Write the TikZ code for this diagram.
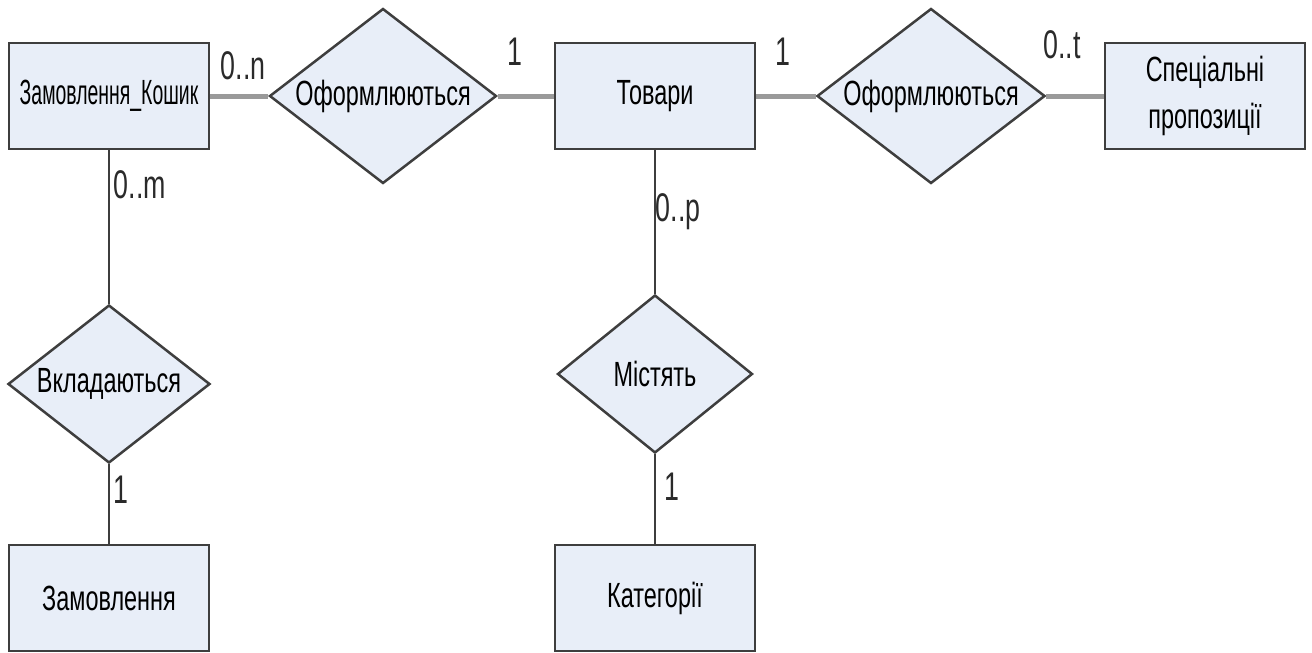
\documentclass[tikz,border=0pt]{standalone}
\usepackage{fontspec}
\setmainfont{Liberation Sans}[FakeStretch=0.67]
\newfontfamily\tightfont{Liberation Sans}[FakeStretch=0.555]
\usetikzlibrary{shapes.geometric}
\definecolor{boxfill}{HTML}{E8EEF8}
\definecolor{boxline}{HTML}{3E3E3E}
\definecolor{linkgray}{HTML}{9A9A9A}
\definecolor{cardtext}{HTML}{2A2A2A}
% diamond text is boxed to zero width so the shape keeps its given size
\newcommand{\reltext}[1]{\makebox[0pt]{#1}}
\tikzset{
  entity/.style={draw=boxline, line width=2.5pt, fill=boxfill, minimum width=200pt,
    minimum height=106pt, inner sep=0pt, font=\fontsize{35}{47}\selectfont, align=center},
  relation/.style={diamond, draw=boxline, line width=2.5pt, fill=boxfill, inner sep=0pt,
    font=\fontsize{35}{42}\selectfont},
  hlink/.style={draw=linkgray, line width=5pt},
  vlink/.style={draw=boxline, line width=2pt},
  card/.style={font=\fontsize{40}{44}\selectfont, text=cardtext, inner sep=0pt}
}
\begin{document}
\begin{tikzpicture}[x=1pt, y=-1pt]
  \useasboundingbox (0,0) rectangle (1312,653);

  % entities
  \node[entity] (zk) at (109,96) {\tightfont Замовлення\_Кошик};
  \node[entity] (tov) at (655,96) {Товари};
  \node[entity] (sp) at (1205,96) {Спеціальні\\пропозиції};
  \node[entity] (zam) at (109,598) {Замовлення};
  \node[entity] (kat) at (655,598) {Категорії};

  % relationships
  \node[relation, minimum width=227pt, minimum height=175pt] (of1) at (383,96) {\reltext{Оформлюються}};
  \node[relation, minimum width=228pt, minimum height=175pt] (of2) at (931,96) {\reltext{Оформлюються}};
  \node[relation, minimum width=202pt, minimum height=158pt] (vk) at (109,384) {\reltext{Вкладаються}};
  \node[relation, minimum width=195pt, minimum height=158pt] (mis) at (655,374) {\reltext{Містять}};

  % connectors
  \draw[hlink] (zk.east) -- (of1.west);
  \draw[hlink] (of1.east) -- (tov.west);
  \draw[hlink] (tov.east) -- (of2.west);
  \draw[hlink] (of2.east) -- (sp.west);
  \draw[vlink] (zk.south) -- (vk.north);
  \draw[vlink] (vk.south) -- (zam.north);
  \draw[vlink] (tov.south) -- (mis.north);
  \draw[vlink] (mis.south) -- (kat.north);

  % cardinalities
  \node[card] (c1) at (243,66) {0..n};
  \node[card] (c2) at (515,52) {1};
  \node[card] (c3) at (783,52) {1};
  \node[card] (c4) at (1062,45) {0..t};
  \node[card] (c5) at (140,185) {0..m};
  \node[card] (c6) at (678,212) {0..p};
  \node[card] (c7) at (121,490) {1};
  \node[card] (c8) at (672,487) {1};
\end{tikzpicture}
\end{document}
